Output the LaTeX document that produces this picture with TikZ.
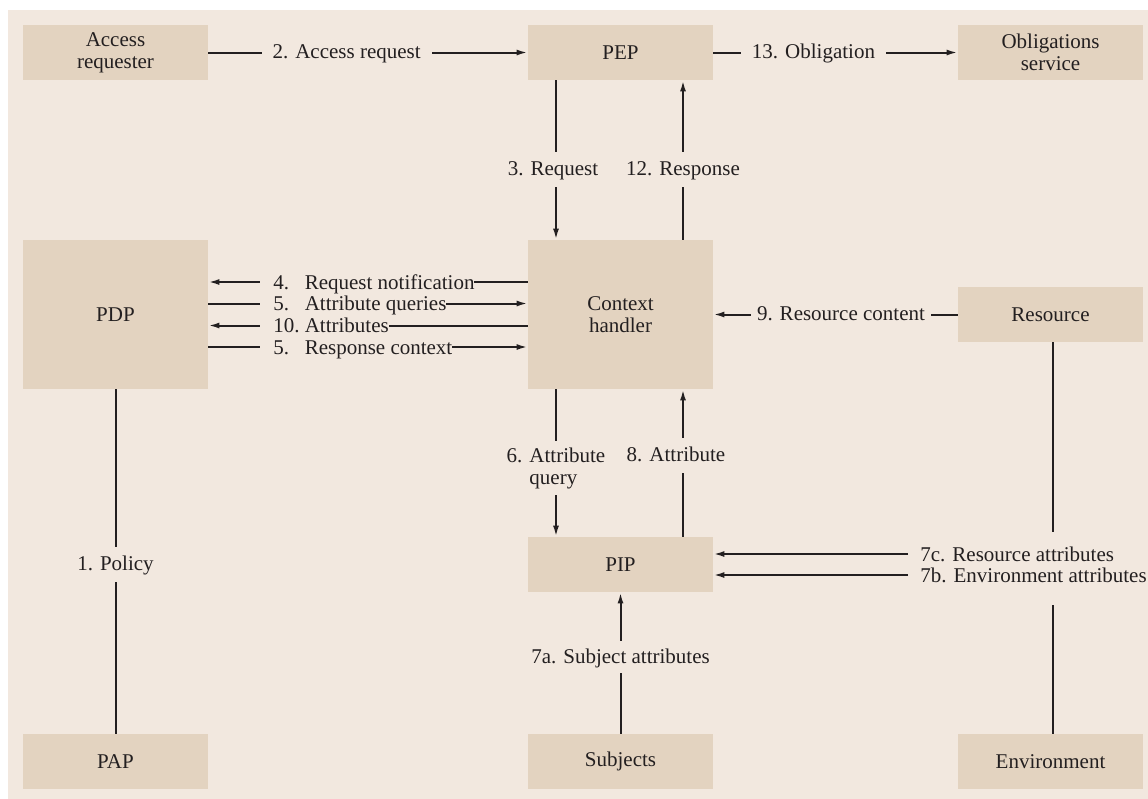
\documentclass[tikz,border=0pt]{standalone}
\usepackage{fontspec}
\setmainfont{Liberation Serif}
\newfontfamily\tmsfont{Liberation Serif}
\usetikzlibrary{arrows.meta}
\definecolor{bgc}{HTML}{F2E8DF}
\definecolor{boxc}{HTML}{E3D3C0}
\definecolor{ink}{HTML}{231F20}
\newcommand\rnum[1]{\makebox[15.75pt][l]{#1}}
\tikzset{
  box/.style={fill=boxc, draw=none, minimum width=92.5pt, minimum height=27.5pt, inner sep=0pt, align=center, text=ink},
  bigbox/.style={box, minimum height=74.5pt},
  conn/.style={draw=ink, line width=1pt},
  arr/.style={conn, -{Latex[length=5.5pt,width=3pt]}},
  lab/.style={fill=bgc, text=ink, inner xsep=5.5pt, inner ysep=3.75pt, text height=8pt, text depth=2pt},
  labtwo/.style={fill=bgc, text=ink, inner xsep=3pt, inner ysep=3.3pt, align=left},
  rowlab/.style={fill=bgc, text=ink, anchor=west, inner xsep=0pt, inner ysep=0.5pt, text height=8pt, text depth=1pt},
}
\begin{document}
\begin{tikzpicture}[x=0.5pt,y=-0.5pt,font=\tmsfont\fontsize{10.5}{11}\selectfont]
\useasboundingbox (0,0) rectangle (1148,799);
\fill[bgc] (8,10) rectangle (1148,799);
% boxes
\node[box] (AR) at (115.5,52.5) {Access\\requester};
\node[box] (PEP) at (620.5,52.5) {PEP};
\node[box] (OS) at (1050.5,52.5) {Obligations\\service};
\node[bigbox] (PDP) at (115.5,314.5) {PDP};
\node[bigbox] (CH) at (620.5,314.5) {Context\\handler};
\node[box] (RES) at (1050.5,314.5) {Resource};
\node[box] (PIP) at (620.5,564.5) {PIP};
\node[box] (PAP) at (115.5,761.5) {PAP};
\node[box] (SUB) at (620.5,761.5) {Subjects};
\node[box] (ENV) at (1050.5,761.5) {Environment};
% top row
\draw[arr] (AR) -- (PEP) node[lab,pos=0.433]{2. Access request};
\draw[arr] (PEP) -- (OS) node[lab,pos=0.41]{13. Obligation};
% PEP <-> context handler
\draw[arr] ([xshift=-32.25pt]PEP.south) -- ([xshift=-32.25pt]CH.north) node[lab,pos=0.5625,xshift=-1.5pt]{3. Request};
\draw[arr] ([xshift=31.25pt]CH.north) -- ([xshift=31.25pt]PEP.south) node[lab,pos=0.4375]{12. Response};
% PDP <-> context handler
\draw[arr] ([yshift=16.25pt]CH.west) -- ([yshift=16.25pt]PDP.east) node[rowlab,pos=0.8406]{\hspace{6.5pt}\rnum{4.}Request notification\hspace{2pt}};
\draw[arr] ([yshift=5.5pt]PDP.east) -- ([yshift=5.5pt]CH.west) node[rowlab,pos=0.1594]{\hspace{6.5pt}\rnum{5.}Attribute queries\hspace{5pt}};
\draw[arr] ([yshift=-5.5pt]CH.west) -- ([yshift=-5.5pt]PDP.east) node[rowlab,pos=0.8406]{\hspace{6.5pt}\rnum{10.}Attributes\hspace{4pt}};
\draw[arr] ([yshift=-16.25pt]PDP.east) -- ([yshift=-16.25pt]CH.west) node[rowlab,pos=0.1594]{\hspace{6.5pt}\rnum{5.}Response context\hspace{5pt}};
% resource -> context handler
\draw[arr] (RES) -- (CH) node[lab,pos=0.4776,inner xsep=3pt]{9. Resource content};
% policy
\draw[conn] (PDP) -- (PAP) node[lab,pos=0.51]{1. Policy};
% context handler <-> PIP
\draw[arr] ([xshift=-32.25pt]CH.south) -- ([xshift=-32.25pt]PIP.north) node[labtwo,pos=0.534]{6. Attribute\\\phantom{6. }query};
\draw[arr] ([xshift=31.25pt]PIP.north) -- ([xshift=31.25pt]CH.south) node[lab,pos=0.554,xshift=-3.5pt]{8. Attribute};
% resource / environment to PIP
\coordinate (r7) at (1053,532);
\coordinate (e7) at (1053,605);
\draw[conn] (RES.south -| r7) -- (r7);
\draw[conn] (ENV.north -| e7) -- (e7);
\node[rowlab] (l7c) at (920,554) {7c. Resource attributes};
\node[rowlab] (l7b) at (920,575) {7b. Environment attributes};
\draw[arr] ([xshift=-6pt]l7c.west) -- (l7c.west -| PIP.east);
\draw[arr] ([xshift=-6pt]l7b.west) -- (l7b.west -| PIP.east);
% subjects -> PIP
\draw[arr] (SUB) -- (PIP) node[lab,pos=0.542,inner ysep=3pt]{7a. Subject attributes};
\end{tikzpicture}
\end{document}
